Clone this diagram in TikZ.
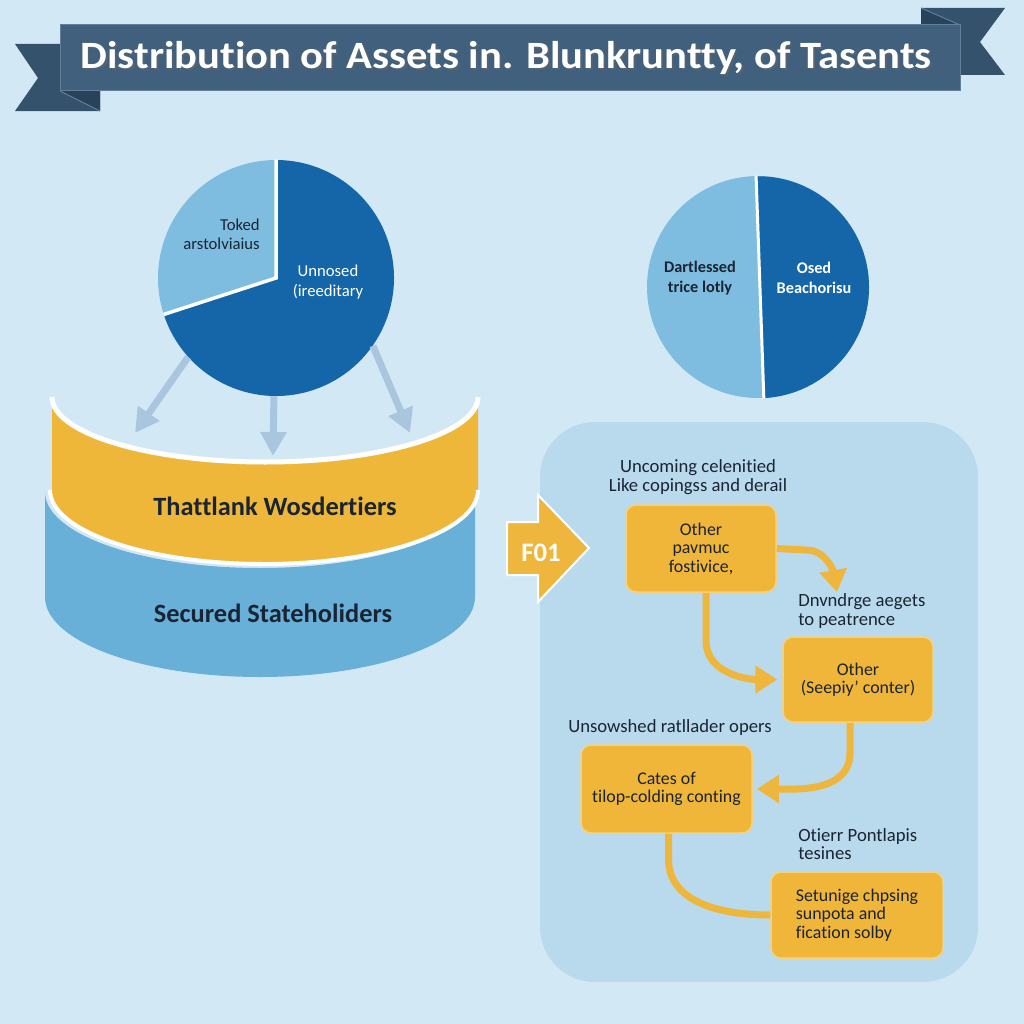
\documentclass[tikz,border=0pt]{standalone}
\usepackage{fontspec}
\setmainfont{Carlito}[Ligatures={NoCommon}]
\usetikzlibrary{arrows.meta}
\newdimen\pxu \pxu=0.75pt
\definecolor{bg}{HTML}{D3E8F5}
\definecolor{banner}{HTML}{40607D}
\definecolor{bannertail}{HTML}{34526C}
\definecolor{bannerfold}{HTML}{28425A}
\definecolor{bannerline}{HTML}{5F7F9A}
\definecolor{piedark}{HTML}{1466A8}
\definecolor{pielight}{HTML}{7FBDE0}
\definecolor{cylyellow}{HTML}{EEB73A}
\definecolor{cylblue}{HTML}{68B0D8}
\definecolor{panel}{HTML}{B9DAEC}
\definecolor{boxfill}{HTML}{F0B63A}
\definecolor{boxedge}{HTML}{F7D27E}
\definecolor{arrowy}{HTML}{EEB63C}
\definecolor{arrowblue}{HTML}{A9C6DE}
\definecolor{txt}{HTML}{1A2433}
\tikzset{
  ybox/.style={draw=boxedge, line width=1.5\pxu, fill=boxfill, rounded corners=10\pxu,
    align=center, inner sep=0pt, text=txt, font=\fontsize{13.4}{13.9}\selectfont},
  lbl/.style={align=center, inner sep=0pt, text=txt, font=\fontsize{14}{14}\selectfont},
  conn/.style={draw=arrowy, line width=5.25pt, -{Triangle[width=20pt,length=16.5pt]}},
  connplain/.style={draw=arrowy, line width=5.25pt},
  parrow/.style={draw=arrowblue, line width=5.25pt, -{Triangle[width=18.75pt,length=18pt]}},
  pietxt/.style={align=center, inner sep=0pt, font=\fontsize{12.5}{14.5}\selectfont},
  cyltxt/.style={inner sep=0pt, text=txt, font=\bfseries\fontsize{19.8}{20}\selectfont},
}
\begin{document}
\begin{tikzpicture}[x=0.75pt,y=0.75pt]
\useasboundingbox (0,0) rectangle (1024,-1024);
\fill[bg] (0,0) rectangle (1024,-1024);

% ---- title banner ----
\fill[bannertail] (15,-44) -- (100,-44) -- (100,-111) -- (15,-111) -- (38,-78) -- cycle;
\fill[bannertail] (921,-8) -- (1005,-8) -- (980,-42) -- (1005,-75) -- (921,-75) -- cycle;
\fill[bannerfold] (60,-91) -- (100,-111) -- (100,-91) -- cycle;
\fill[bannerfold] (921,-8) -- (960,-25) -- (921,-25) -- cycle;
\draw[bannerline, line width=1\pxu] (60,-91) -- (100,-111);
\draw[bannerline, line width=1\pxu] (921,-8) -- (960,-25);
\node[fill=banner, draw=bannerline, line width=1\pxu, minimum width=900\pxu, minimum height=66\pxu, inner sep=0pt] (banner) at (510,-58) {};
\node[text=black!60, opacity=0.5, inner sep=0pt, anchor=base, font=\bfseries\fontsize{29}{29}\selectfont] (titleshadow) at (508,-71) {\scalebox{1.1}[1]{Distribution of Assets in. Blunkruntty, of Tasents}};
\node[text=white, inner sep=0pt, anchor=base, font=\bfseries\fontsize{29}{29}\selectfont] (title) at (506,-69) {\scalebox{1.1}[1]{Distribution of Assets in. Blunkruntty, of Tasents}};

% ---- pie 1 ----
\node[circle, minimum size=236\pxu, inner sep=0pt] (pie1) at (276,-278) {};
\fill[piedark] (pie1.center) -- ++(198:118) arc[start angle=198, end angle=450, radius=118] -- cycle;
\fill[pielight] (pie1.center) -- ++(90:118) arc[start angle=90, end angle=198, radius=118] -- cycle;
\draw[white, line width=3.5\pxu] (pie1.90) -- (pie1.center) -- (pie1.198);
\node[pietxt, text=txt, align=right, anchor=east] (pie1a) at (260,-234) {Toked\\arstolviaius};
\node[pietxt, text=white] (pie1b) at (328,-282) {Unnosed\\(ireeditary};

% ---- pie 2 ----
\node[circle, minimum size=222\pxu, inner sep=0pt] (pie2) at (758,-287) {};
\fill[pielight] (pie2.center) circle (111);
\fill[piedark] (pie2.-87) arc[start angle=-87, end angle=91, radius=111] -- cycle;
\draw[white, line width=3\pxu] (pie2.91) -- (pie2.-87);
\node[pietxt, text=txt, font=\bfseries\fontsize{12.2}{14.5}\selectfont] (pie2a) at (700,-278) {Dartlessed\\trice lotly};
\node[pietxt, text=white, font=\bfseries\fontsize{12.2}{14.5}\selectfont] (pie2b) at (814,-278) {Osed\\Beachorisu};

% ---- cylinder ----
\fill[cylblue] (45,-492) -- (45,-597) arc[start angle=180, end angle=360, x radius=215, y radius=80]
  -- (475,-492) arc[start angle=0, end angle=-180, x radius=215, y radius=76] -- cycle;
\fill[cylyellow] (52,-397) -- (52,-490) arc[start angle=180, end angle=360, x radius=213, y radius=73]
  -- (478,-397) arc[start angle=0, end angle=-180, x radius=213, y radius=65] -- cycle;
\draw[white, line width=4\pxu] (50,-490) arc[start angle=180, end angle=360, x radius=214, y radius=74];
\draw[white, line width=5\pxu] (478,-397) arc[start angle=0, end angle=-180, x radius=213, y radius=65];
\node[cyltxt] (cyl1) at (275,-506) {Thattlank Wosdertiers};
\node[cyltxt] (cyl2) at (273,-613) {Secured Stateholiders};

% ---- arrows from pie 1 ----
\coordinate (tipL) at (135,-433);
\coordinate (tipM) at (273,-456);
\coordinate (tipR) at (410,-433);
\draw[parrow] (pie1.222) -- (tipL);
\draw[parrow] (pie1.-91) -- (tipM);
\draw[parrow] (pie1.-35) -- (tipR);

% ---- panel ----
\node[fill=panel, rounded corners=55\pxu, minimum width=438\pxu, minimum height=560\pxu, inner sep=0pt] (panel) at (759,-702) {};

% ---- F01 arrow ----
\fill[arrowy, draw=white, line width=2\pxu, line join=miter]
  (507,-522) -- (538,-522) -- (538,-495) -- (589,-548) -- (538,-602) -- (538,-575) -- (507,-575) -- cycle;
\node[text=white, inner sep=0pt, font=\bfseries\fontsize{20}{20}\selectfont] (f01) at (541,-553) {F01};

% ---- flow boxes ----
\node[ybox, minimum width=150\pxu, minimum height=87\pxu] (b1) at (701,-548.5) {Other\\pavmuc\\fostivice,};
\node[ybox, minimum width=150\pxu, minimum height=85\pxu] (b2) at (858,-679.5) {Other\\(Seepiy' conter)};
\node[ybox, minimum width=171\pxu, minimum height=88\pxu] (b3) at (666.5,-789) {Cates of\\tilop-colding conting};
\node[ybox, minimum width=172\pxu, minimum height=86\pxu, align=left] (b4) at (857,-915) {Setunige chpsing\\sunpota and\\fication solby};

% ---- labels ----
\node[lbl] (l1) at (698,-477) {Uncoming celenitied\\Like copingss and derail};
\node[lbl, anchor=west, align=left] (l2) at (798,-611) {Dnvndrge aegets\\to peatrence};
\node[lbl] (l3) at (670,-728) {Unsowshed ratllader opers};
\node[lbl, anchor=west, align=left] (l4) at (798,-844) {Otierr Pontlapis\\tesines};

% ---- connectors ----
\coordinate (t1) at (837,-592);
\draw[conn] (b1.east) -- (806,-550) to[out=0, in=100] (t1);
\draw[conn, shorten >=5\pxu] ([xshift=5\pxu]b1.south) -- ++(0,-48) to[out=-90, in=180] (b2.west);
\draw[conn, shorten >=4\pxu] ([xshift=-8\pxu]b2.south) -- ++(0,-30) to[out=-90, in=0] (b3.east);
\draw[connplain] ([xshift=2\pxu]b3.south) -- ++(0,-25) to[out=-90, in=180] (b4.west);
\end{tikzpicture}
\end{document}
